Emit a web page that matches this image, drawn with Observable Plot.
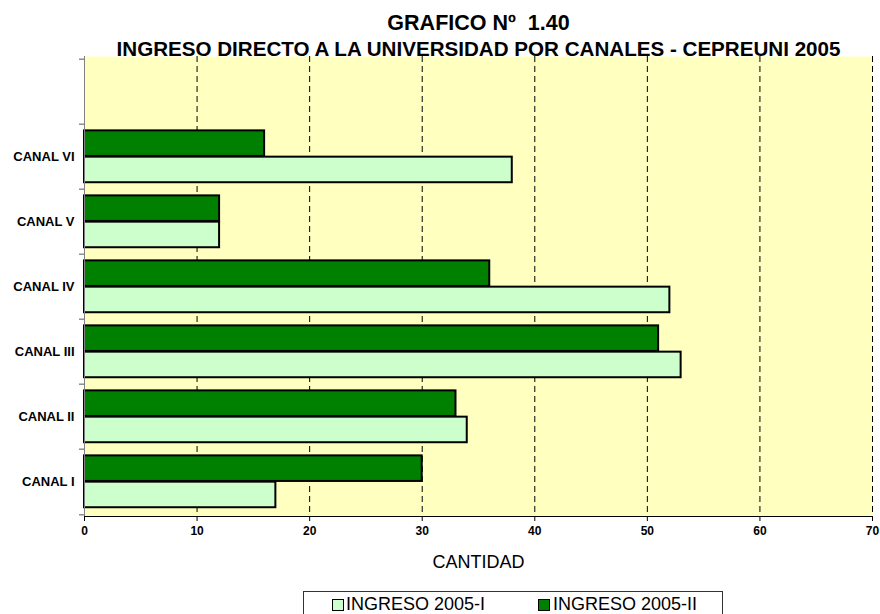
<!DOCTYPE html>
<html><head><meta charset="utf-8">
<script src="https://cdn.jsdelivr.net/npm/d3@7"></script>
<script src="https://cdn.jsdelivr.net/npm/@observablehq/plot@0.6"></script>
<style>
body{margin:0;background:#fff;font-family:Arial,"Liberation Sans",sans-serif;}
#wrap{position:relative;width:880px;height:614px;overflow:hidden;}
#legend{position:absolute;left:303px;top:591px;width:420px;height:32px;border:1px solid #333;box-sizing:border-box;background:#fff;}
.sw{position:absolute;top:7px;width:10px;height:10px;border:1.5px solid #000;}
.lt{position:absolute;top:1px;font-size:18px;line-height:22px;color:#000;white-space:nowrap;}
</style></head><body><div id="wrap"></div>
<script>
const canals = ["CANAL I","CANAL II","CANAL III","CANAL IV","CANAL V","CANAL VI"];
const ingreso2005I = [17,34,53,52,12,38];
const ingreso2005II = [30,33,51,36,12,16];
const seriesNames = ["INGRESO 2005-I","INGRESO 2005-II"];
const seriesColors = ["#CCFFCC","#008000"];
const xTicks = [0,10,20,30,40,50,60,70];
const titleLines = ["GRAFICO Nº  1.40","INGRESO DIRECTO A LA UNIVERSIDAD POR CANALES - CEPREUNI 2005"];
const xLabel = "CANTIDAD";
const BLANK = " ";

const W = 880, H = 590, mT = 56, mB = 74, mL = 84, mR = 8;
const bw = (H - mT - mB) / 7;
const gap = bw * 0.097, bh = bw * 0.4;
const yDomain = [BLANK, ...canals.slice().reverse()];
const dataI = canals.map((c,i) => ({canal:c, value: ingreso2005I[i]}));
const dataII = canals.map((c,i) => ({canal:c, value: ingreso2005II[i]}));

const chart = Plot.plot({
  width: W, height: H, marginTop: mT, marginBottom: mB, marginLeft: mL, marginRight: mR,
  style: {fontFamily: 'Arial, "Liberation Sans", sans-serif', background: "#fff", color: "#000"},
  x: {domain: [0,70], ticks: xTicks},
  y: {domain: yDomain, padding: 0},
  marks: [
    Plot.frame({fill: "#FFFFC0", stroke: null}),
    Plot.gridX({ticks: xTicks.slice(1), stroke: "#000", strokeOpacity: 1, strokeDasharray: "6,4", strokeWidth: 1}),
    Plot.barX(dataII, {x: "value", y: "canal", fill: seriesColors[1], stroke: "#000", strokeWidth: 2, insetTop: gap, insetBottom: bw - gap - bh}),
    Plot.barX(dataI, {x: "value", y: "canal", fill: seriesColors[0], stroke: "#000", strokeWidth: 2, insetTop: gap + bh, insetBottom: bw - gap - 2*bh}),
    Plot.ruleX([0], {stroke: "#808080", strokeWidth: 1}),
    Plot.frame({anchor: "bottom", stroke: "#000", strokeWidth: 1}),
    Plot.axisX({ticks: xTicks, tickSize: 5, tickPadding: 5, label: null, fontSize: 12, fontWeight: "bold"}),
    Plot.axisY({tickSize: 0, tickPadding: 10, label: null, fontSize: 13, fontWeight: "bold", tickFormat: d => d === BLANK ? "" : d}),
    Plot.axisY({tickSize: 5, label: null, tickFormat: () => "", dy: -bw/2, stroke: "#555"}),
    Plot.axisY({ticks: [canals[0]], tickSize: 5, label: null, tickFormat: () => "", dy: bw/2, stroke: "#555"}),
    Plot.text([titleLines[0]], {frameAnchor: "top", dy: -27, lineAnchor: "bottom", fontSize: 21.5, fontWeight: "bold"}),
    Plot.text([titleLines[1]], {frameAnchor: "top", dy: -1, lineAnchor: "bottom", fontSize: 20.6, fontWeight: "bold"}),
    Plot.text([xLabel], {frameAnchor: "bottom", dy: 51, fontSize: 18})
  ]
});
const wrap = document.getElementById("wrap");
wrap.appendChild(chart);
const legend = document.createElement("div");
legend.id = "legend";
const swX = [28, 234], txX = [42, 249];
seriesNames.forEach((n, i) => {
  const s = document.createElement("div");
  s.className = "sw"; s.style.left = swX[i] + "px"; s.style.background = seriesColors[i];
  const t = document.createElement("div");
  t.className = "lt"; t.style.left = txX[i] + "px"; t.textContent = n;
  legend.appendChild(s); legend.appendChild(t);
});
wrap.appendChild(legend);
</script>
</body></html>
